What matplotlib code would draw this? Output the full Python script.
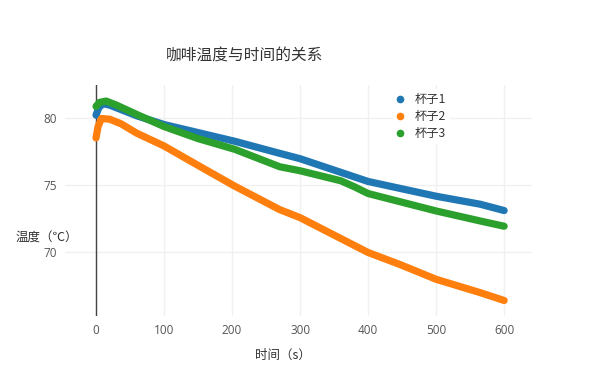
import matplotlib
matplotlib.use("Agg")
import matplotlib.pyplot as plt
from matplotlib.lines import Line2D

plt.rcParams['font.family'] = ['Noto Sans CJK SC', 'DejaVu Sans']
plt.rcParams['axes.unicode_minus'] = False

# 杯子1
t1 = [0, 4, 10, 20, 40, 60, 100, 150, 204, 270, 300, 400, 500, 565, 600]
temp1 = [80.25, 80.8, 81.1, 81.0, 80.6, 80.2, 79.55, 78.95, 78.3, 77.4, 77.0, 75.3, 74.2, 73.6, 73.13]

# 杯子2
t2 = [0, 3, 8, 20, 37, 60, 100, 150, 204, 270, 300, 400, 447, 500, 565, 600]
temp2 = [78.55, 79.4, 80.0, 79.95, 79.6, 78.9, 77.95, 76.5, 74.95, 73.2, 72.6, 70.0, 69.1, 68.0, 67.0, 66.42]

# 杯子3
t3 = [0, 5, 15, 30, 60, 100, 150, 204, 270, 300, 360, 380, 400, 450, 500, 565, 600]
temp3 = [80.9, 81.2, 81.3, 81.0, 80.3, 79.4, 78.5, 77.7, 76.4, 76.1, 75.35, 74.9, 74.4, 73.75, 73.1, 72.35, 71.96]

series = [("杯子1", t1, temp1, "#1f77b4"),
          ("杯子2", t2, temp2, "#ff7f0e"),
          ("杯子3", t3, temp3, "#2ca02c")]

xticks = [0, 100, 200, 300, 400, 500, 600]
yticks = [70, 75, 80]

W, H = 600, 385
fig = plt.figure(figsize=(W / 100, H / 100), dpi=100)
ax = fig.add_axes([65 / W, 1 - 316 / H, (532 - 65) / W, (316 - 85) / H])

for name, t, v, c in series:
    ax.plot(t, v, color=c, lw=5.2, solid_capstyle="round", solid_joinstyle="round", zorder=3)

ax.set_xlim(-45.6, 641)
ax.set_ylim(65.26, 82.5)
ax.set_xticks(xticks)
ax.set_yticks(yticks)
ax.grid(True, color="#f0f0f0", lw=1)
ax.set_axisbelow(True)
for s in ax.spines.values():
    s.set_visible(False)
ax.axvline(0, color="#444444", lw=1, zorder=2)
ax.tick_params(length=0, labelsize=8.5, labelcolor="#555555", pad=6)
for lab in ax.get_xticklabels() + ax.get_yticklabels():
    lab.set_family(["Open Sans", "DejaVu Sans"])

fig.text(245 / W, 1 - 56 / H, "咖啡温度与时间的关系", ha="center", va="center",
         fontsize=11.3, color="#333333")
fig.text(283 / W, 1 - 355 / H, "时间（s）", ha="center", va="center",
         fontsize=9, color="#333333")
fig.text(47 / W, 1 - 238 / H, "温度（℃）", ha="center", va="center",
         fontsize=9, color="#333333")

handles = [Line2D([], [], ls="none", marker="o", ms=4.5, color=c) for _, _, _, c in series]
leg = ax.legend(handles, [s[0] for s in series], loc="upper left",
                bbox_to_anchor=(387 / W, 1 - 83 / H), bbox_transform=fig.transFigure,
                frameon=True, fancybox=False, edgecolor="none", facecolor="white",
                framealpha=1, handlelength=0.6, handletextpad=0.9, labelspacing=0.35,
                borderpad=0.3, fontsize=8.8)
for txt in leg.get_texts():
    txt.set_color("#333333")

fig.savefig("out.png", dpi=100)
